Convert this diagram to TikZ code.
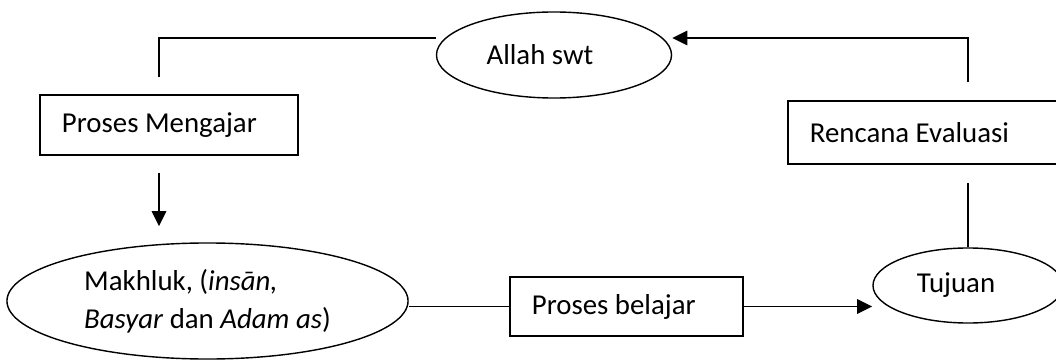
\documentclass[tikz,border=0pt]{standalone}
\usepackage{fontspec}
\setmainfont{Carlito}
\usepackage{tikz}
\usetikzlibrary{positioning}
\usetikzlibrary{shapes.geometric, arrows.meta}
\tikzset{
    box/.style={draw, rectangle, line width=1pt, inner xsep=0.55cm, align=flush left, font=\fontsize{20.5}{27}\selectfont},
    oval/.style={draw, ellipse, line width=1pt, align=left, font=\fontsize{20.5}{27}\selectfont},
    line/.style={line width=1pt},
    arrow/.style={line width=1.4pt,-{Triangle[length=0.38cm, width=0.36cm]}}
}

\begin{document}
\begin{tikzpicture}[x=0.025cm, y=-0.025cm]
\clip (0,0) rectangle (1056,360);

\node [oval, minimum width=5.875cm, minimum height=2.15cm]           (allah)    at (554,55)      {Allah swt\hspace*{0.7cm}};
\node [box, text width=5.35cm, minimum height=1.5cm]                 (mengajar) at (169,125)     {Proses Mengajar};
\node [box, text width=5.83cm, minimum height=1.575cm]               (rencana)  at (926.5,132.5) {Rencana Evaluasi};
\node [oval, minimum width=10.025cm, minimum height=2.9cm]           (makhluk)  at (207.5,301)   {Makhluk, (\textit{insān,}\\\textit{Basyar} dan \textit{Adam as})};
\node [box, text width=4.73cm, minimum height=1.475cm]               (belajar)  at (626.5,306.5) {Proses belajar};
\node [oval, minimum width=4.75cm, minimum height=1.875cm]           (tujuan)   at (968,285.5)   {Tujuan\hspace*{0.6cm}};

\coordinate (top) at (0,38);
\coordinate (col) at (159,0);

\draw [line, shorten >=0.425cm] (allah.west |- top) -| (mengajar.north -| col);
\draw [arrow, shorten <=0.425cm, shorten >=0.4cm] (mengajar.south -| col) -- (makhluk.north -| col);
\draw [line] (makhluk.east |- belajar.west) -- (belajar.west);
\draw [arrow] (belajar.east) -- (belajar.east -| tujuan.west);
\draw [line, shorten >=0.45cm] (tujuan.north) -- (tujuan.north |- rencana.south);
\draw [arrow, shorten <=0.45cm] (tujuan.north |- rencana.north) |- (allah.east |- top);

\end{tikzpicture}
\end{document}
